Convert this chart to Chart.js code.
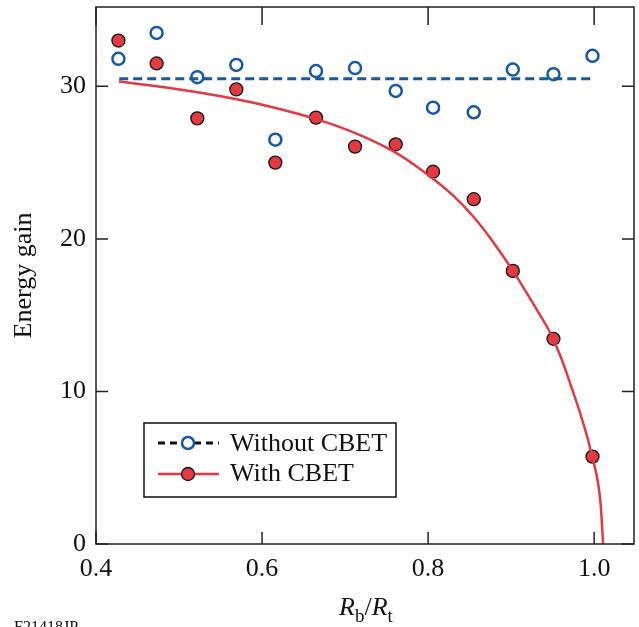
<!DOCTYPE html>
<html>
<head>
<meta charset="utf-8">
<script src="https://cdn.jsdelivr.net/npm/chart.js@4"></script>
<style>
    body { margin: 0; background: #fff; }
    canvas { display: block; }
</style>
</head>
<body>
<canvas id="gainChart" width="639" height="627"></canvas>
<script>
// Rb/Rt values of the simulations
const ratioX = [0.427, 0.473, 0.522, 0.569, 0.616, 0.665, 0.712, 0.761, 0.806, 0.855, 0.902, 0.951, 0.998];
const withoutCbet = [31.8, 33.5, 30.6, 31.4, 26.5, 31.0, 31.2, 29.7, 28.6, 28.3, 31.1, 30.8, 32.0];
const withCbet = [33.0, 31.5, 27.9, 29.8, 25.0, 27.95, 26.05, 26.2, 24.4, 22.6, 17.9, 13.45, 5.73];

// fitted curves
const flatX = [0.428, 0.997];
const flatY = [30.5, 30.5];
const fitX = [0.4275, 0.4846, 0.5649, 0.6150, 0.6654, 0.7116, 0.7578, 0.7899, 0.8300, 0.8554, 0.8783, 0.9016, 0.9265, 0.9506, 0.9707, 0.9976, 1.0077, 1.0108];
const fitY = [30.31, 29.92, 29.20, 28.60, 27.85, 26.95, 25.75, 24.60, 22.85, 21.40, 19.80, 17.95, 15.75, 13.45, 10.60, 5.73, 2.69, 0];

const xTicks = [0.4, 0.6, 0.8, 1.0];
const yTicks = [0, 10, 20, 30];

const BLUE = "rgb(22, 88, 168)";
const RED = "rgb(226, 58, 64)";
const FONT = "'Liberation Serif', 'DejaVu Serif', serif";

const pts = (xs, ys) => xs.map((x, i) => ({ x: x, y: ys[i] }));

const noPad = s => {
    s.paddingTop = 0;
    s.paddingBottom = 0;
    s.paddingLeft = 0;
    s.paddingRight = 0;
};

// frame, inward ticks, titles and legend
const decor = {
    id: "decor",
    afterDraw(chart) {
        const ctx = chart.ctx;
        const a = chart.chartArea;
        const xs = chart.scales.x;
        const ys = chart.scales.y;
        ctx.save();

        ctx.strokeStyle = "#222";
        ctx.lineWidth = 1.5;
        ctx.strokeRect(a.left, a.top, a.right - a.left, a.bottom - a.top);

        ctx.beginPath();
        xTicks.forEach(v => {
            const px = xs.getPixelForValue(v);
            ctx.moveTo(px, a.bottom); ctx.lineTo(px, a.bottom - 12);
            ctx.moveTo(px, a.top); ctx.lineTo(px, a.top + 18);
        });
        yTicks.forEach(v => {
            const py = ys.getPixelForValue(v);
            ctx.moveTo(a.left, py); ctx.lineTo(a.left + 12, py);
            ctx.moveTo(a.right, py); ctx.lineTo(a.right - 12, py);
        });
        ctx.stroke();

        ctx.fillStyle = "#111";
        // y title
        ctx.save();
        ctx.translate(24, (a.top + a.bottom) / 2);
        ctx.rotate(-Math.PI / 2);
        ctx.font = "26px " + FONT;
        ctx.textAlign = "center";
        ctx.textBaseline = "middle";
        ctx.fillText("Energy gain", 0, 0);
        ctx.restore();

        // x title  Rb/Rt
        const parts = [
            { t: "R", f: "italic 26px " + FONT, dy: 0 },
            { t: "b", f: "19px " + FONT, dy: 7 },
            { t: "/", f: "26px " + FONT, dy: 0 },
            { t: "R", f: "italic 26px " + FONT, dy: 0 },
            { t: "t", f: "19px " + FONT, dy: 7 }
        ];
        let total = 0;
        parts.forEach(p => { ctx.font = p.f; p.w = ctx.measureText(p.t).width; total += p.w; });
        let cx = 366 - total / 2;
        ctx.textAlign = "left";
        ctx.textBaseline = "alphabetic";
        parts.forEach(p => {
            ctx.font = p.f;
            ctx.fillText(p.t, cx, 615 + p.dy);
            cx += p.w;
        });

        // figure code, cut at the bottom
        ctx.font = "16px " + FONT;
        ctx.fillText("F21418JP", 14, 632);

        // legend
        ctx.fillStyle = "#fff";
        ctx.fillRect(144, 423, 252, 74);
        ctx.strokeStyle = "#111";
        ctx.lineWidth = 1.5;
        ctx.strokeRect(144, 423, 252, 74);

        ctx.lineWidth = 3;
        ctx.strokeStyle = "#111";
        ctx.setLineDash([7, 5]);
        ctx.beginPath();
        ctx.moveTo(158, 443); ctx.lineTo(219, 443);
        ctx.stroke();
        ctx.setLineDash([]);
        ctx.beginPath();
        ctx.arc(188, 443, 6, 0, Math.PI * 2);
        ctx.fillStyle = "#fff";
        ctx.fill();
        ctx.lineWidth = 2.5;
        ctx.strokeStyle = BLUE;
        ctx.stroke();

        ctx.lineWidth = 2.5;
        ctx.strokeStyle = RED;
        ctx.beginPath();
        ctx.moveTo(158, 474); ctx.lineTo(219, 474);
        ctx.stroke();
        ctx.beginPath();
        ctx.arc(188, 474, 6.5, 0, Math.PI * 2);
        ctx.fillStyle = RED;
        ctx.fill();
        ctx.lineWidth = 1.3;
        ctx.strokeStyle = "#111";
        ctx.stroke();

        ctx.fillStyle = "#111";
        ctx.font = "26px " + FONT;
        ctx.textBaseline = "middle";
        ctx.fillText("Without CBET", 230, 444);
        ctx.fillText("With CBET", 230, 474);

        ctx.restore();
    }
};

const gainChart = new Chart(document.getElementById("gainChart"), {
    type: "scatter",
    data: {
        datasets: [
            {
                label: "Without CBET fit",
                data: pts(flatX, flatY),
                showLine: true,
                borderColor: BLUE,
                borderWidth: 3,
                borderDash: [9, 5],
                pointRadius: 0
            },
            {
                label: "With CBET fit",
                data: pts(fitX, fitY),
                showLine: true,
                borderColor: RED,
                borderWidth: 2.5,
                cubicInterpolationMode: "monotone",
                pointRadius: 0
            },
            {
                label: "Without CBET",
                data: pts(ratioX, withoutCbet),
                pointRadius: 6,
                pointBackgroundColor: "#fff",
                pointBorderColor: BLUE,
                pointBorderWidth: 2.5
            },
            {
                label: "With CBET",
                data: pts(ratioX, withCbet),
                pointRadius: 6.5,
                pointBackgroundColor: RED,
                pointBorderColor: "#111",
                pointBorderWidth: 1.3
            }
        ]
    },
    options: {
        responsive: false,
        animation: false,
        devicePixelRatio: 1,
        layout: { autoPadding: false, padding: { top: 7, right: 5, left: 0, bottom: 0 } },
        plugins: {
            legend: { display: false },
            tooltip: { enabled: false }
        },
        scales: {
            x: {
                type: "linear",
                min: 0.4,
                max: 1.048,
                afterBuildTicks: s => { s.ticks = xTicks.map(v => ({ value: v })); },
                afterFit: s => { s.height = 83; noPad(s); },
                grid: { display: false, drawTicks: false },
                border: { display: false },
                ticks: {
                    padding: 10,
                    color: "#111",
                    font: { family: FONT, size: 26 },
                    callback: v => v.toFixed(1)
                }
            },
            y: {
                min: 0,
                max: 35.2,
                afterBuildTicks: s => { s.ticks = yTicks.map(v => ({ value: v })); },
                afterFit: s => { s.width = 96; noPad(s); },
                grid: { display: false, drawTicks: false },
                border: { display: false },
                ticks: {
                    padding: 10,
                    color: "#111",
                    font: { family: FONT, size: 26 }
                }
            }
        }
    },
    plugins: [decor]
});
</script>
</body>
</html>
